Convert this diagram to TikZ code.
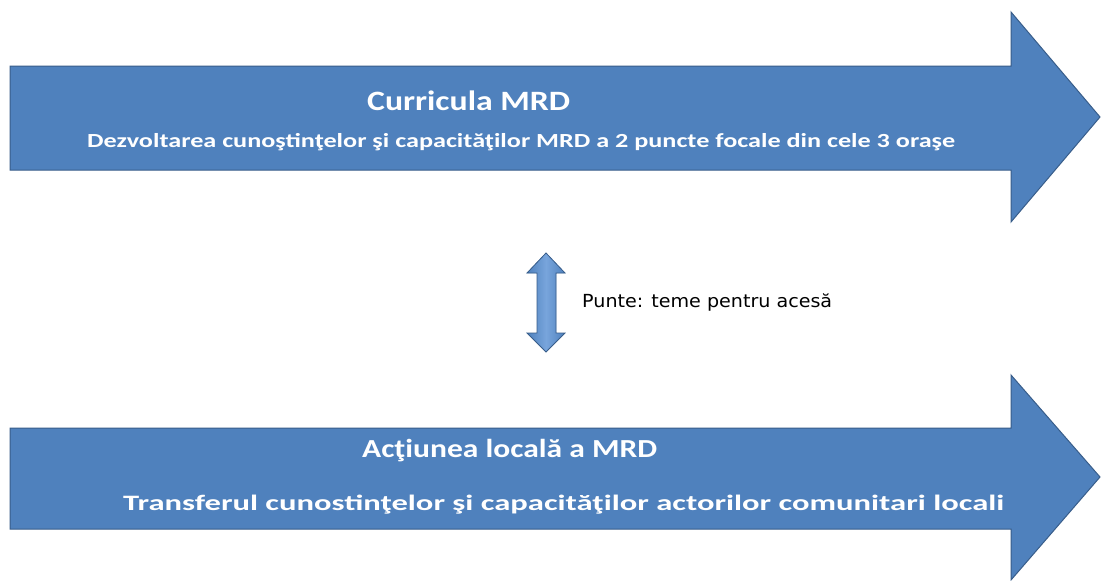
\documentclass[tikz,border=0pt]{standalone}
\usepackage{fontspec}
\setmainfont{Carlito}
\newfontfamily\midfont{DejaVu Sans}
\usepackage{graphicx}
\definecolor{arrowblue}{RGB}{79,129,189}
\definecolor{arrowedge}{RGB}{56,93,138}
\definecolor{arrowlight}{RGB}{120,165,220}
\newcommand{\fitto}[2]{\resizebox{#1}{\height}{#2}}
\begin{document}
\begin{tikzpicture}[x=1pt,y=-1pt,
  bigarrow/.style={fill=arrowblue,draw=arrowedge,line width=1pt,line join=miter},
  whitetext/.style={inner sep=0pt,anchor=base west,text=white},
  blacktext/.style={inner sep=0pt,anchor=base west,text=black}]
\useasboundingbox (0,0) rectangle (1101,581);
\fill[white] (0,0) rectangle (1101,581);
% top arrow
\draw[bigarrow] (10,66) -- (1011,66) -- (1011,12) -- (1100,117) -- (1011,222) -- (1011,170) -- (10,170) -- cycle;
% bottom arrow
\draw[bigarrow] (10,428) -- (1011,428) -- (1011,375) -- (1100,477) -- (1011,580) -- (1011,529) -- (10,529) -- cycle;
% double arrow
\draw[bigarrow,line width=0.8pt,left color=arrowblue,right color=arrowblue,middle color=arrowlight]
  (546,253) -- (565,273) -- (556,273) -- (556,333) -- (565,333) -- (546,352)
  -- (527,333) -- (537,333) -- (537,273) -- (527,273) -- cycle;
% texts
\node[whitetext,font=\bfseries\fontsize{28}{30}\selectfont] (t1) at (367,110) {\fitto{203pt}{Curricula MRD}};
\node[whitetext,font=\bfseries\fontsize{20}{22}\selectfont] (s1) at (87,147) {\fitto{868pt}{Dezvoltarea cunoştinţelor şi capacităţilor MRD a 2 puncte focale din cele 3 oraşe}};
\node[whitetext,font=\bfseries\fontsize{26}{28}\selectfont] (t2) at (362,457) {\fitto{295pt}{Acţiunea locală a MRD}};
\node[whitetext,font=\bfseries\fontsize{22}{24}\selectfont] (s2) at (123,510) {\fitto{881pt}{Transferul cunostinţelor şi capacităţilor actorilor comunitari locali}};
\node[blacktext,font=\midfont\fontsize{18}{20}\selectfont] (m) at (582,307) {\fitto{250pt}{Punte: teme pentru acesă}};
\end{tikzpicture}
\end{document}
